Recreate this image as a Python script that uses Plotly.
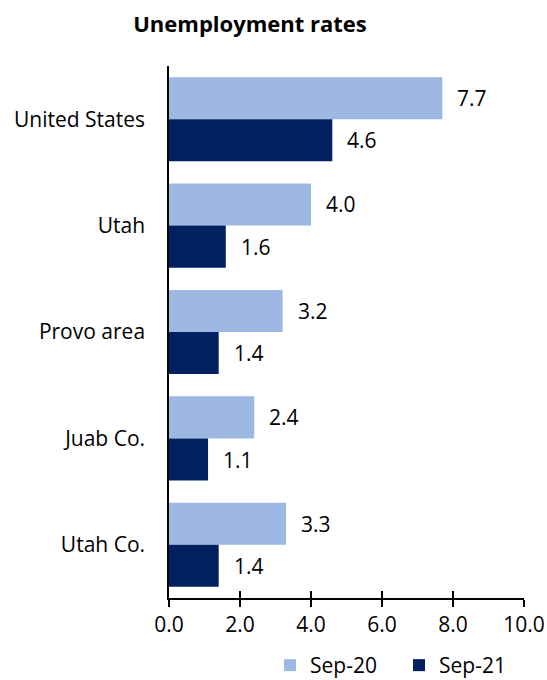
import plotly.graph_objects as go

# Unemployment rates by area, September 2020 vs September 2021
areas = ["United States", "Utah", "Provo area", "Juab Co.", "Utah Co."]
sep20 = [7.7, 4.0, 3.2, 2.4, 3.3]
sep21 = [4.6, 1.6, 1.4, 1.1, 1.4]
x_ticks = [0, 2, 4, 6, 8, 10]
x_tick_labels = ["0.0", "2.0", "4.0", "6.0", "8.0", "10.0"]

light = "#9DB9E3"
navy = "#002060"
font_family = "'Open Sans', Lato, sans-serif"
fs = 21

fig = go.Figure()
fig.add_trace(go.Bar(y=areas, x=sep20, orientation="h", name="Sep-20",
                     marker=dict(color=light, line=dict(width=0))))
fig.add_trace(go.Bar(y=areas, x=sep21, orientation="h", name="Sep-21",
                     marker=dict(color=navy, line=dict(width=0))))

# value labels to the right of each bar
annotations = []
for i, area in enumerate(areas):
    for val, off in ((sep20[i], -0.2), (sep21[i], 0.2)):
        annotations.append(dict(
            x=val, y=i + off, xref="x", yref="y", text=f"{val:.1f}",
            showarrow=False, xanchor="left", yanchor="middle", xshift=13,
            font=dict(size=fs, color="#000000", family=font_family)))

fig.update_layout(
    width=547, height=680,
    margin=dict(l=169, r=23, t=66, b=82, autoexpand=False),
    paper_bgcolor="white", plot_bgcolor="white",
    barmode="group", bargap=0.21, bargroupgap=0,
    font=dict(family=font_family, size=fs, color="#000000"),
    title=dict(text="<b>Unemployment rates</b>", x=250 / 547, xanchor="center",
               xref="container", y=1 - 24 / 680, yanchor="middle",
               font=dict(size=22, color="#000000", family=font_family)),
    xaxis=dict(range=[0, 10], tickvals=x_ticks, ticktext=x_tick_labels,
               showgrid=False, zeroline=False, showline=True,
               linecolor="#000000", linewidth=1.5, automargin=False,
               ticks="outside", ticklen=7, tickcolor="#000000", tickwidth=1.5,
               tickfont=dict(size=fs)),
    # overlay axis supplies the inner half of the crossing tick marks
    xaxis2=dict(range=[0, 10], tickvals=x_ticks, overlaying="x", side="bottom",
                anchor="y", showticklabels=False, showgrid=False, zeroline=False,
                showline=False, ticks="inside", ticklen=7, tickcolor="#000000",
                tickwidth=1.5, automargin=False),
    yaxis=dict(categoryorder="array", categoryarray=areas, autorange="reversed",
               showgrid=False, zeroline=False, showline=True,
               linecolor="#000000", linewidth=1.5, ticks="", automargin=False,
               ticklabelstandoff=18, tickfont=dict(size=fs)),
    legend=dict(orientation="h", xref="container", x=270 / 547, xanchor="left",
                yref="container", y=1 - 645 / 680, yanchor="top",
                font=dict(size=fs), itemwidth=30, traceorder="normal",
                entrywidth=84, entrywidthmode="pixels"),
    annotations=annotations,
)
# invisible trace on xaxis2 so the overlay axis is drawn
fig.add_trace(go.Scatter(x=[0], y=[areas[0]], xaxis="x2", mode="markers",
                         marker=dict(opacity=0), showlegend=False,
                         hoverinfo="skip"))

fig.write_html("out.html")
